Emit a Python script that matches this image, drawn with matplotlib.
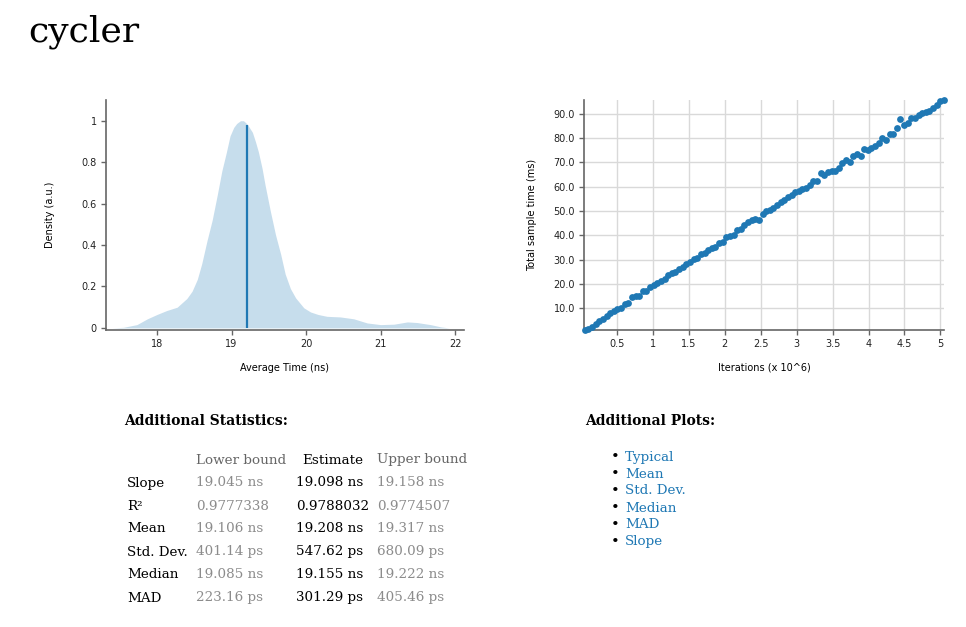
import matplotlib
matplotlib.use('Agg')
import matplotlib.pyplot as plt
from matplotlib.ticker import FuncFormatter

# 密度曲线 (Average Time, ns)
dens_x = [17.40, 17.55, 17.73, 17.87, 18.00, 18.13, 18.27, 18.40, 18.47, 18.54,
          18.60, 18.67, 18.74, 18.81, 18.87, 18.93, 18.98, 19.03, 19.07, 19.12,
          19.16, 19.21, 19.28, 19.32, 19.36, 19.41, 19.45, 19.52, 19.59, 19.66,
          19.72, 19.79, 19.86, 19.97, 20.06, 20.16, 20.28, 20.46, 20.64, 20.82,
          21.00, 21.18, 21.36, 21.49, 21.67, 21.81, 21.92]
dens_y = [0.0, 0.003, 0.016, 0.044, 0.065, 0.084, 0.10, 0.142, 0.177, 0.234,
          0.31, 0.42, 0.52, 0.645, 0.758, 0.847, 0.927, 0.968, 0.987, 1.0,
          1.0, 0.984, 0.944, 0.90, 0.85, 0.77, 0.69, 0.565, 0.45, 0.355,
          0.26, 0.19, 0.145, 0.097, 0.077, 0.065, 0.056, 0.053, 0.044, 0.024,
          0.016, 0.018, 0.029, 0.026, 0.016, 0.005, 0.0]
mean_x = 19.208
mean_y = 0.98

# 迭代次数 (x 10^6) 和 总采样时间 (ms)
iters = [0.0505, 0.101, 0.1515, 0.202, 0.2525, 0.303, 0.3535, 0.404, 0.4545, 0.505,
         0.5555, 0.606, 0.6565, 0.707, 0.7575, 0.808, 0.8585, 0.909, 0.9595, 1.01,
         1.0605, 1.111, 1.1615, 1.212, 1.2625, 1.313, 1.3635, 1.414, 1.4645, 1.515,
         1.5655, 1.616, 1.6665, 1.717, 1.7675, 1.818, 1.8685, 1.919, 1.9695, 2.02,
         2.0705, 2.121, 2.1715, 2.222, 2.2725, 2.323, 2.3735, 2.424, 2.4745, 2.525,
         2.5755, 2.626, 2.6765, 2.727, 2.7775, 2.828, 2.8785, 2.929, 2.9795, 3.03,
         3.0805, 3.131, 3.1815, 3.232, 3.2825, 3.333, 3.3835, 3.434, 3.4845, 3.535,
         3.5855, 3.636, 3.6865, 3.737, 3.7875, 3.838, 3.8885, 3.939, 3.9895, 4.04,
         4.0905, 4.141, 4.1915, 4.242, 4.2925, 4.343, 4.3935, 4.444, 4.4945, 4.545,
         4.5955, 4.646, 4.6965, 4.747, 4.7975, 4.848, 4.8985, 4.949, 4.9995, 5.05]
times = [1.1, 1.6, 2.4, 3.3, 4.6, 5.6, 6.7, 8.0, 8.9, 9.6,
         10.2, 11.6, 12.1, 14.5, 14.8, 15.1, 16.9, 17.0, 18.6, 19.5,
         20.3, 21.0, 21.8, 23.5, 24.6, 24.7, 26.3, 27.0, 28.1, 29.2,
         30.2, 30.6, 32.1, 32.9, 34.0, 34.9, 35.3, 36.8, 37.3, 39.3,
         39.8, 40.3, 42.1, 42.6, 44.3, 45.4, 46.1, 46.5, 46.3, 48.9,
         49.8, 50.6, 51.3, 52.3, 53.5, 54.4, 55.9, 56.4, 57.9, 58.3,
         59.1, 59.6, 60.8, 62.5, 62.4, 65.8, 64.8, 65.9, 66.3, 66.6,
         67.5, 69.9, 71.0, 70.3, 72.8, 73.6, 72.8, 75.7, 75.2, 76.1,
         76.6, 77.8, 80.2, 79.4, 81.9, 81.9, 84.0, 87.7, 85.3, 86.4,
         88.4, 88.1, 89.6, 90.3, 90.8, 91.2, 92.4, 93.8, 95.3, 95.6]

# 统计表
stat_names = ['Slope', 'R\u00b2', 'Mean', 'Std. Dev.', 'Median', 'MAD']
lower_bound = ['19.045 ns', '0.9777338', '19.106 ns', '401.14 ps', '19.085 ns', '223.16 ps']
estimate = ['19.098 ns', '0.9788032', '19.208 ns', '547.62 ps', '19.155 ns', '301.29 ps']
upper_bound = ['19.158 ns', '0.9774507', '19.317 ns', '680.09 ps', '19.222 ns', '405.46 ps']
plot_links = ['Typical', 'Mean', 'Std. Dev.', 'Median', 'MAD', 'Slope']

BLUE = '#1f78b4'
AXC = '#666666'
W, H = 966, 627

fig = plt.figure(figsize=(W / 100, H / 100), dpi=100)


def fx(px):
    return px / W


def fy(py):
    return 1 - py / H


def style_axes(ax):
    for s in ['top', 'right']:
        ax.spines[s].set_visible(False)
    for s in ['left', 'bottom']:
        ax.spines[s].set_color(AXC)
        ax.spines[s].set_linewidth(1.2)
    ax.tick_params(colors=AXC, labelcolor='#222222', labelsize=7,
                   length=3.5, width=1, pad=3)


# 左图：密度
ax1 = fig.add_axes([fx(106), fy(330), fx(464) - fx(106), fy(100) - fy(330)])
ax1.fill_between(dens_x, dens_y, 0, color=BLUE, alpha=0.25, linewidth=0)
ax1.vlines(mean_x, 0, mean_y, color=BLUE, linewidth=1.6)
ax1.set_xlim(17.315, 22.12)
ax1.set_ylim(-0.01, 1.10)
ax1.set_xticks([18, 19, 20, 21, 22])
ax1.set_yticks([0, 0.2, 0.4, 0.6, 0.8, 1])
ax1.yaxis.set_major_formatter(FuncFormatter(lambda v, p: '%g' % v))
ax1.set_xlabel('Average Time (ns)', fontsize=7, labelpad=10)
ax1.set_ylabel('Density (a.u.)', fontsize=7, labelpad=19)
style_axes(ax1)

# 右图：迭代
ax2 = fig.add_axes([fx(584), fy(330), fx(944) - fx(584), fy(100) - fy(330)])
ax2.grid(True, color='#d9d9d9', linewidth=1)
ax2.set_axisbelow(True)
ax2.scatter(iters, times, s=24, color=BLUE, zorder=3, clip_on=False, linewidths=0)
ax2.set_xlim(0.04, 5.05)
ax2.set_ylim(1.0, 95.7)
ax2.set_xticks([0.5, 1, 1.5, 2, 2.5, 3, 3.5, 4, 4.5, 5])
ax2.set_yticks([10, 20, 30, 40, 50, 60, 70, 80, 90])
ax2.xaxis.set_major_formatter(FuncFormatter(lambda v, p: '%g' % v))
ax2.yaxis.set_major_formatter(FuncFormatter(lambda v, p: '%.1f' % v))
ax2.set_xlabel('Iterations (x 10^6)', fontsize=7, labelpad=10)
ax2.set_ylabel('Total sample time (ms)', fontsize=7, labelpad=12)
style_axes(ax2)

# 标题和表格 (HTML部分)
serif = 'DejaVu Serif'
fig.text(fx(28), fy(32), 'cycler', fontsize=26, family=serif, va='center', ha='left')

fig.text(fx(124), fy(421), 'Additional Statistics:', fontsize=10, family=serif,
         weight='bold', va='center')

col_x = [127, 196, 296, 377]
fig.text(fx(col_x[1]), fy(460), 'Lower bound', fontsize=9.7, family=serif,
         color='#666666', va='center')
fig.text(fx(302), fy(460), 'Estimate', fontsize=9.7, family=serif,
         color='black', va='center')
fig.text(fx(col_x[3]), fy(460), 'Upper bound', fontsize=9.7, family=serif,
         color='#666666', va='center')

for i in range(len(stat_names)):
    y = fy(483 + 23 * i)
    fig.text(fx(col_x[0]), y, stat_names[i], fontsize=9.7, family=serif, va='center')
    fig.text(fx(col_x[1]), y, lower_bound[i], fontsize=9.7, family=serif,
             color='#8c8c8c', va='center')
    fig.text(fx(col_x[2]), y, estimate[i], fontsize=9.7, family=serif,
             color='black', va='center')
    fig.text(fx(col_x[3]), y, upper_bound[i], fontsize=9.7, family=serif,
             color='#8c8c8c', va='center')

fig.text(fx(585), fy(421), 'Additional Plots:', fontsize=10, family=serif,
         weight='bold', va='center')
for i in range(len(plot_links)):
    y = fy(457 + 17 * i)
    fig.text(fx(611), y, '\u2022', fontsize=10.5, family=serif, va='center')
    fig.text(fx(625), y, plot_links[i], fontsize=9.7, family=serif,
             color=BLUE, va='center')

plt.savefig('out.png', dpi=100)
plt.close()
